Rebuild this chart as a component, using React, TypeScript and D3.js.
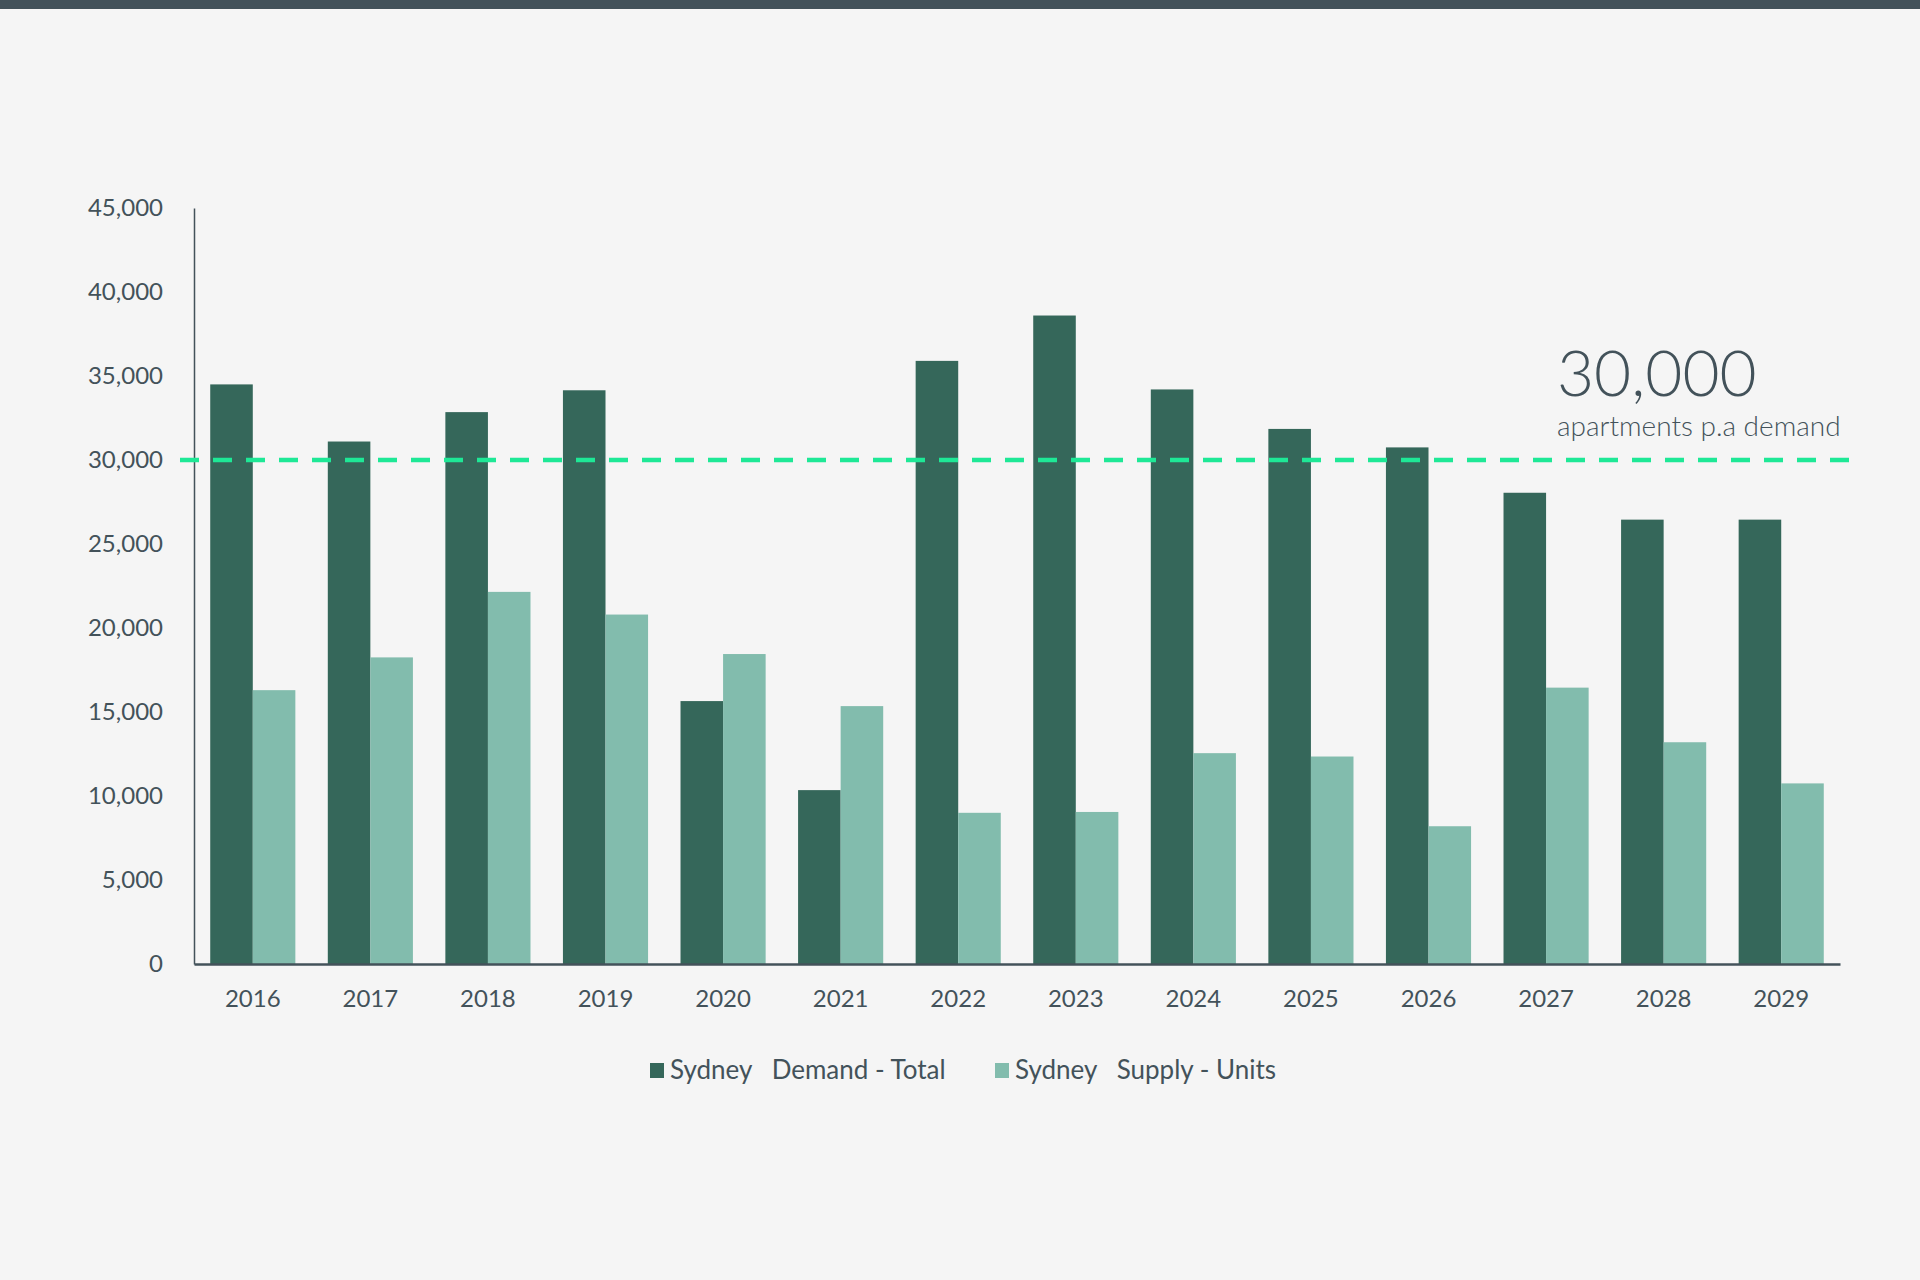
import { useRef, useEffect } from "react";
import * as d3 from "d3";

const years = ["2016", "2017", "2018", "2019", "2020", "2021", "2022", "2023", "2024", "2025", "2026", "2027", "2028", "2029"];
const demandTotal = [34500, 31100, 32850, 34150, 15650, 10350, 35900, 38600, 34200, 31850, 30750, 28050, 26450, 26450];
const supplyUnits = [16300, 18250, 22150, 20800, 18450, 15350, 9000, 9050, 12550, 12350, 8200, 16450, 13200, 10750];
const yTicks = [0, 5000, 10000, 15000, 20000, 25000, 30000, 35000, 40000, 45000];
const seriesNames = ["Sydney   Demand - Total", "Sydney   Supply - Units"];
const targetValue = 30000;

const W = 1920;
const H = 1280;
const FONT = "Lato, 'Open Sans', sans-serif";
const TEXT = "#43525a";
const DARK = "#35675a";
const LIGHT = "#82bcad";
const DASH = "#1ee896";

export default function App() {
  const svgRef = useRef<SVGSVGElement>(null);

  useEffect(() => {
    document.body.style.margin = "0";
    const svg = d3.select(svgRef.current);
    svg.selectAll("*").remove();

    const margin = { top: 208, left: 194, right: 80, bottom: 316 };
    const innerW = W - margin.left - margin.right;
    const innerH = H - margin.top - margin.bottom;

    svg.append("rect").attr("width", W).attr("height", H).attr("fill", "#f5f5f5");
    svg.append("rect").attr("width", W).attr("height", 9).attr("fill", TEXT);

    const g = svg.append("g").attr("transform", `translate(${margin.left},${margin.top})`);

    const x = d3.scaleBand().domain(years).range([0, innerW]).paddingInner(0.276).paddingOuter(0.138);
    const x1 = d3.scaleBand().domain(["d", "s"]).range([0, x.bandwidth()]);
    const y = d3.scaleLinear().domain([0, 45000]).range([innerH, 0]);

    // bars
    years.forEach((yr, i) => {
      const gx = x(yr)!;
      g.append("rect")
        .attr("x", gx + x1("d")!)
        .attr("y", y(demandTotal[i]))
        .attr("width", x1.bandwidth())
        .attr("height", innerH - y(demandTotal[i]))
        .attr("fill", DARK);
      g.append("rect")
        .attr("x", gx + x1("s")!)
        .attr("y", y(supplyUnits[i]))
        .attr("width", x1.bandwidth())
        .attr("height", innerH - y(supplyUnits[i]))
        .attr("fill", LIGHT);
    });

    // y axis
    const yAxis = g.append("g")
      .call(d3.axisLeft(y).tickValues(yTicks).tickFormat(d3.format(",")).tickSize(0).tickPadding(31));
    yAxis.select(".domain").attr("stroke", TEXT).attr("stroke-width", 1.5);
    yAxis.selectAll(".tick text")
      .attr("fill", TEXT)
      .attr("font-family", FONT)
      .attr("font-size", "24px");

    // x axis
    const xAxis = g.append("g")
      .attr("transform", `translate(0,${innerH})`)
      .call(d3.axisBottom(x).tickSize(0).tickPadding(26));
    xAxis.select(".domain").attr("stroke", TEXT).attr("stroke-width", 2.5);
    xAxis.selectAll(".tick text")
      .attr("fill", TEXT)
      .attr("font-family", FONT)
      .attr("font-size", "24px");

    // target line
    g.append("line")
      .attr("x1", -14)
      .attr("x2", innerW + 22)
      .attr("y1", y(targetValue))
      .attr("y2", y(targetValue))
      .attr("stroke", DASH)
      .attr("stroke-width", 4.5)
      .attr("stroke-dasharray", "19 14");

    g.append("text")
      .attr("x", 1557 - margin.left)
      .attr("y", y(targetValue) - 64)
      .attr("fill", TEXT)
      .attr("font-family", FONT)
      .attr("font-size", "64px")
      .attr("font-weight", 300)
      .text(d3.format(",")(targetValue));

    g.append("text")
      .attr("x", 1557 - margin.left)
      .attr("y", y(targetValue) - 24)
      .attr("fill", TEXT)
      .attr("font-family", FONT)
      .attr("font-size", "28px")
      .attr("font-weight", 300)
      .text("apartments p.a demand");

    // legend
    const legend = svg.append("g").attr("transform", "translate(650,1070)");
    const legendX = [0, 345];
    seriesNames.forEach((name, i) => {
      const row = legend.append("g").attr("transform", `translate(${legendX[i]},0)`);
      row.append("rect")
        .attr("x", 0)
        .attr("y", -7)
        .attr("width", 14)
        .attr("height", 15)
        .attr("fill", i === 0 ? DARK : LIGHT);
      row.append("text")
        .attr("x", 20)
        .attr("y", 0)
        .attr("dy", "0.35em")
        .attr("fill", TEXT)
        .attr("font-family", FONT)
        .attr("font-size", "26px")
        .attr("xml:space", "preserve")
        .style("white-space", "pre")
        .text(name);
    });
  }, []);

  return (
    <div style={{ width: W, height: H }}>
      <svg ref={svgRef} width={W} height={H} style={{ display: "block" }} />
    </div>
  );
}
